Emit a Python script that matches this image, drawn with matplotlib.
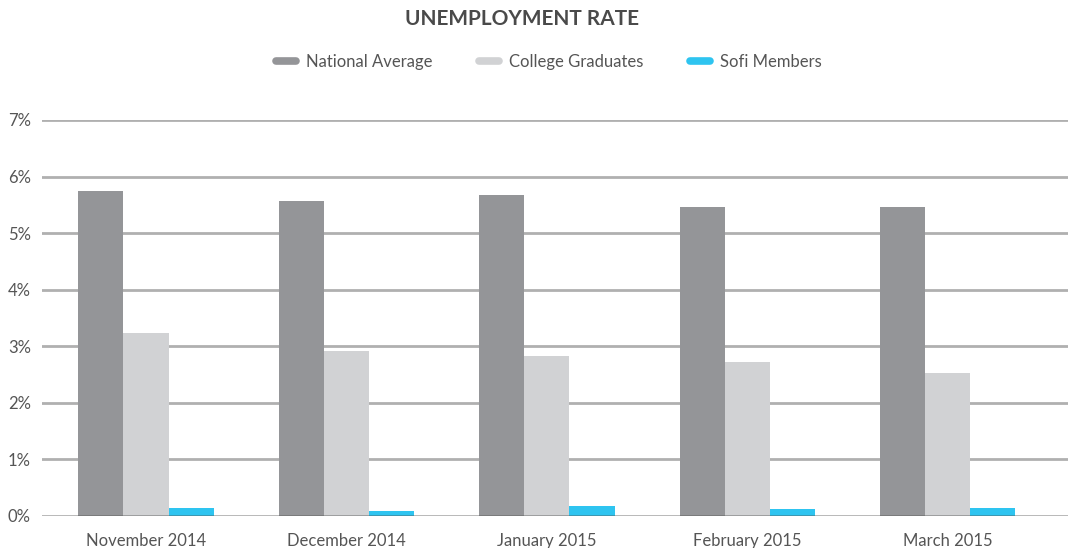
import numpy as np
import matplotlib.pyplot as plt
from matplotlib.lines import Line2D

plt.rcParams['font.family'] = ['Lato', 'DejaVu Sans']

# Data
months = ['November 2014', 'December 2014', 'January 2015', 'February 2015', 'March 2015']
national_avg = [5.75, 5.57, 5.68, 5.47, 5.47]
college_grads = [3.23, 2.92, 2.83, 2.73, 2.53]
sofi_members = [0.14, 0.09, 0.17, 0.13, 0.15]

series_names = ['National Average', 'College Graduates', 'Sofi Members']
colors = ['#949598', '#d1d2d4', '#2ec4f0']
text_color = '#555555'

fig = plt.figure(figsize=(10.68, 5.48), dpi=100)
ax = fig.add_axes([42 / 1068, 32 / 548, 1 - 42 / 1068, (516 - 120) / 548])

x = np.arange(len(months))
w = 0.225
for i, (vals, c) in enumerate(zip([national_avg, college_grads, sofi_members], colors)):
    ax.bar(x + (i - 1) * w, vals, width=w, color=c, zorder=2)

# Gridlines
for v in range(1, 8):
    ax.axhline(v, color='#b0b0b0', linewidth=2, zorder=1)
ax.axhline(0, color='#555555', linewidth=2, alpha=0.45, zorder=3)

ax.set_xlim(-0.519, 4.60)
ax.set_ylim(0, 7)
ax.set_yticks(range(8))
ax.set_yticklabels([f'{v}%' for v in range(8)])
ax.set_xticks(x)
ax.set_xticklabels(months)
ax.tick_params(axis='both', length=0, labelsize=12, colors=text_color)
ax.tick_params(axis='y', pad=8)
ax.tick_params(axis='x', pad=12.5)
for s in ax.spines.values():
    s.set_visible(False)

fig.text(522 / 1068, (548 - 19) / 548, 'UNEMPLOYMENT RATE', ha='center', va='center',
         fontsize=15, fontweight='bold', color='#4a4a4a')

handles = [Line2D([0], [0], color=c, linewidth=5.5, solid_capstyle='round') for c in colors]
fig.legend(handles, series_names, loc='center', bbox_to_anchor=(549 / 1068, (548 - 62) / 548),
           ncol=3, frameon=False, fontsize=12, labelcolor=text_color,
           handlelength=1.2, handletextpad=0.6, columnspacing=2.8)

fig.savefig('out.png', dpi=100)
